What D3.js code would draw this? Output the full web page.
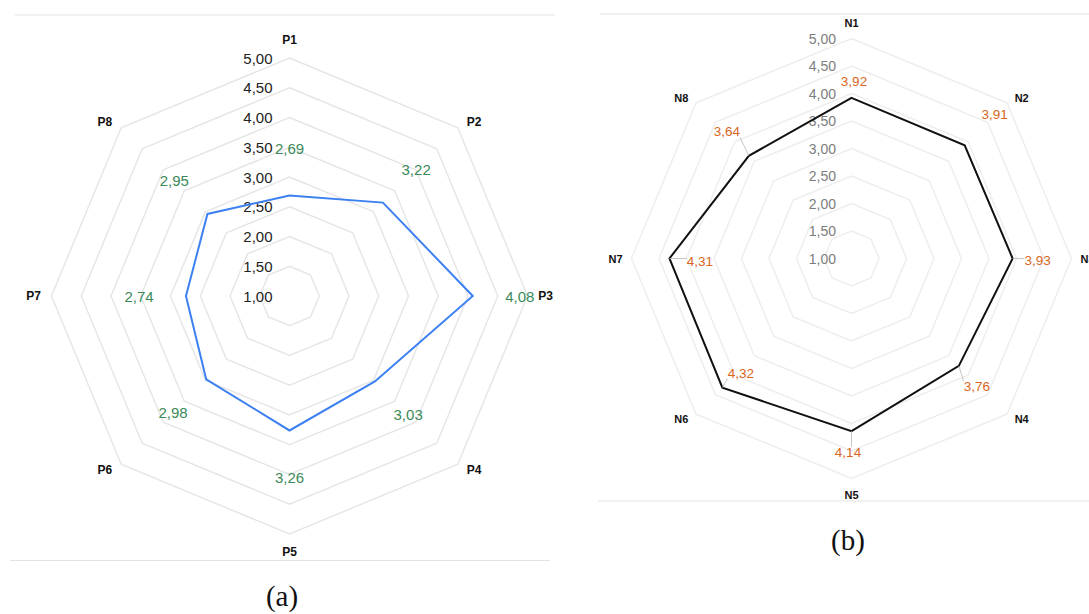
<!DOCTYPE html>
<html>
<head>
<meta charset="utf-8">
<script src="https://cdn.jsdelivr.net/npm/d3@7"></script>
<style>
  html, body { margin: 0; padding: 0; background: #ffffff; }
  svg { display: block; }
</style>
</head>
<body>
<svg id="chart" width="1089" height="614"></svg>
<script>
// ---------- DATA ----------
const categoriesA = ["P1", "P2", "P3", "P4", "P5", "P6", "P7", "P8"];
const valuesA = [2.69, 3.22, 4.08, 3.03, 3.26, 2.98, 2.74, 2.95];

const categoriesB = ["N1", "N2", "N3", "N4", "N5", "N6", "N7", "N8"];
const valuesB = [3.92, 3.91, 3.93, 3.76, 4.14, 4.32, 4.31, 3.64];

const tickValues = [1.00, 1.50, 2.00, 2.50, 3.00, 3.50, 4.00, 4.50, 5.00];
const captions = ["(a)", "(b)"];

// ---------- LAYOUT (not data) ----------
// manual data-label offsets for chart (b), in px from the data point
const labelOffsetB = [[2.5, -16], [30, -31], [25, 1.5], [18, 21], [-3.5, 21], [18.5, -14.5], [30.5, 2.5], [-22, -24]];
const leaderB = [false, false, true, true, true, true, true, true];

const fmt = d3.formatLocale({decimal: ",", thousands: ".", grouping: [3], currency: ["", ""]}).format(".2f");
const svg = d3.select("#chart");

// separator lines
const seps = [
  {x1: 15, x2: 555, y: 15}, {x1: 10, x2: 550, y: 560.5},
  {x1: 600, x2: 1089, y: 14}, {x1: 598, x2: 1089, y: 501}
];
svg.selectAll("line.sep").data(seps).join("line")
  .attr("x1", d => d.x1).attr("x2", d => d.x2)
  .attr("y1", d => d.y).attr("y2", d => d.y)
  .attr("stroke", "#e3e3e3").attr("stroke-width", 1.2);

function radar(opts) {
  const {cx, cy, R, cats, vals, gridColor, tickColor, tickSize, tickDx, lineColor,
         valColor, valSize, catSize, catR, valueLabelPos, leaders} = opts;
  const n = cats.length;
  const angle = d3.scaleLinear().domain([0, n]).range([0, 2 * Math.PI]);
  const r = d3.scaleLinear().domain([1, 5]).range([0, R]);
  const g = svg.append("g").attr("transform", `translate(${cx},${cy})`);

  const ringLine = d3.lineRadial().curve(d3.curveLinearClosed)
    .angle((d, i) => angle(i)).radius(d => d);

  // grid rings
  g.selectAll("path.ring").data(tickValues.filter(t => t > 1)).join("path")
    .attr("d", t => ringLine(d3.range(n).map(() => r(t))))
    .attr("fill", "none").attr("stroke", gridColor).attr("stroke-width", 1.5);

  // tick labels
  g.selectAll("text.tick").data(tickValues).join("text")
    .attr("x", tickDx).attr("y", t => -r(t))
    .attr("text-anchor", "end").attr("dominant-baseline", "central")
    .attr("font-family", "Liberation Sans, Arial, sans-serif")
    .attr("font-size", tickSize).attr("fill", tickColor)
    .text(t => fmt(t));

  // data polygon
  g.append("path")
    .attr("d", ringLine(vals.map(v => r(v))))
    .attr("fill", "none").attr("stroke", lineColor).attr("stroke-width", 2)
    .attr("stroke-linejoin", "miter");

  // category labels
  g.selectAll("text.cat").data(cats).join("text")
    .attr("x", (d, i) => { const a = angle(i); return catR * Math.sin(a) * (1 + 0.02 * Math.abs(Math.sin(2 * a))); })
    .attr("y", (d, i) => { const a = angle(i); return -catR * Math.cos(a) * (1 - 0.04 * Math.abs(Math.sin(2 * a))); })
    .attr("text-anchor", "middle").attr("dominant-baseline", "central")
    .attr("font-family", "Liberation Sans, Arial, sans-serif")
    .attr("font-weight", "bold").attr("font-size", catSize).attr("fill", "#111")
    .text(d => d);

  // value labels
  const pts = vals.map((v, i) => {
    const a = angle(i);
    const px = r(v) * Math.sin(a), py = -r(v) * Math.cos(a);
    const [lx, ly] = valueLabelPos(i, a, px, py, r(v));
    return {v, px, py, lx, ly};
  });
  if (leaders) {
    const w = valSize * 1.95, h = valSize * 0.8;
    g.selectAll("line.leader").data(pts.filter((p, i) => leaders[i])).join("line")
      .attr("x1", p => p.px).attr("y1", p => p.py)
      .attr("x2", p => Math.max(p.lx - w / 2, Math.min(p.lx + w / 2, p.px)))
      .attr("y2", p => Math.max(p.ly - h / 2, Math.min(p.ly + h / 2, p.py)))
      .attr("stroke", "#b8b8b8").attr("stroke-width", 0.8);
  }
  g.selectAll("text.val").data(pts).join("text")
    .attr("x", p => p.lx).attr("y", p => p.ly)
    .attr("text-anchor", "middle").attr("dominant-baseline", "central")
    .attr("font-family", "Liberation Sans, Arial, sans-serif")
    .attr("font-size", valSize).attr("fill", valColor)
    .text(p => fmt(p.v));
}

radar({
  cx: 289.5, cy: 296, R: 238, cats: categoriesA, vals: valuesA,
  gridColor: "#e6e6e6", tickColor: "#222", tickSize: 15, tickDx: -17,
  lineColor: "#3d80f2", valColor: "#3b8a5a", valSize: 15, catSize: 12, catR: 256,
  valueLabelPos: (i, a, px, py, rv) => [(rv + 47) * Math.sin(a), -(rv + 47) * Math.cos(a)]
});

radar({
  cx: 851.5, cy: 258.5, R: 220, cats: categoriesB, vals: valuesB,
  gridColor: "#eeeeee", tickColor: "#7d7d7d", tickSize: 14, tickDx: -15.5,
  lineColor: "#111", valColor: "#d8661e", valSize: 13.5, catSize: 11, catR: 236,
  valueLabelPos: (i, a, px, py) => [px + labelOffsetB[i][0], py + labelOffsetB[i][1]],
  leaders: leaderB
});

// captions
svg.selectAll("text.cap").data(captions).join("text")
  .attr("x", (d, i) => i === 0 ? 282 : 848)
  .attr("y", (d, i) => i === 0 ? 606 : 550)
  .attr("text-anchor", "middle")
  .attr("font-family", "Liberation Serif, Times New Roman, serif")
  .attr("font-size", 29).attr("fill", "#111")
  .text(d => d);
</script>
</body>
</html>
